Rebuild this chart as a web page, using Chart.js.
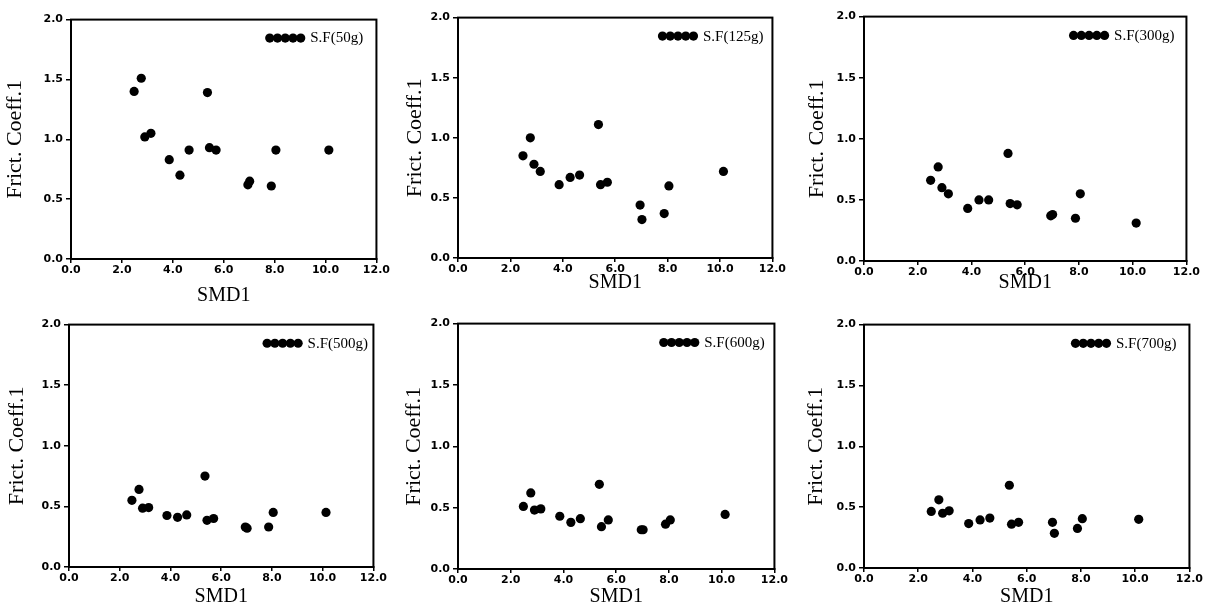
<!DOCTYPE html>
<html>
<head>
<meta charset="utf-8">
<script src="https://cdn.jsdelivr.net/npm/chart.js@4.4.1/dist/chart.umd.min.js"></script>
<style>
  html, body { margin: 0; padding: 0; background: #fff; }
  #wrap { position: relative; width: 1216px; height: 614px; overflow: hidden; background: #fff; }
  canvas { position: absolute; }
</style>
</head>
<body>
<div id="wrap"></div>
<script>
// ---- data ----
const smd1 = [2.48, 2.76, 2.90, 3.14, 3.86, 4.28, 4.64, 5.36, 5.44, 5.70, 6.95, 7.02, 7.87, 8.05, 10.13];
const sf50  = [1.40, 1.51, 1.02, 1.05, 0.83, 0.70, 0.91, 1.39, 0.93, 0.91, 0.62, 0.65, 0.61, 0.91, 0.91];
const sf125 = [0.85, 1.00, 0.78, 0.72, 0.61, 0.67, 0.69, 1.11, 0.61, 0.63, 0.44, 0.32, 0.37, 0.60, 0.72];
const sf300 = [0.66, 0.77, 0.60, 0.55, 0.43, 0.50, 0.50, 0.88, 0.47, 0.46, 0.37, 0.38, 0.35, 0.55, 0.31];
const sf500 = [0.55, 0.64, 0.485, 0.49, 0.425, 0.41, 0.43, 0.75, 0.385, 0.40, 0.33, 0.32, 0.33, 0.45, 0.45];
const sf600 = [0.51, 0.62, 0.48, 0.49, 0.43, 0.38, 0.41, 0.69, 0.345, 0.40, 0.32, 0.32, 0.365, 0.40, 0.445];
const sf700 = [0.465, 0.56, 0.45, 0.47, 0.365, 0.395, 0.41, 0.68, 0.36, 0.375, 0.375, 0.285, 0.325, 0.405, 0.40];
const seriesLabels = ['S.F(50g)', 'S.F(125g)', 'S.F(300g)', 'S.F(500g)', 'S.F(600g)', 'S.F(700g)'];
const seriesValues = [sf50, sf125, sf300, sf500, sf600, sf700];
const xTickLabels = ['0.0', '2.0', '4.0', '6.0', '8.0', '10.0', '12.0'];
const yTickLabels = ['0.0', '0.5', '1.0', '1.5', '2.0'];
const xTitle = 'SMD1';
const yTitle = 'Frict. Coeff.1';

// ---- layout (canvas boxes, axis sizes) ----
const panels = [
  { left: 2,   top: 10,  width: 389, height: 298, yw: 69, xh: 49 },
  { left: 402, top: 8,   width: 385, height: 287, yw: 56, xh: 37 },
  { left: 804, top: 7,   width: 397, height: 288, yw: 60, xh: 34 },
  { left: 4,   top: 315, width: 384, height: 294, yw: 65, xh: 42 },
  { left: 401, top: 314, width: 388, height: 295, yw: 57, xh: 40 },
  { left: 803, top: 315, width: 401, height: 294, yw: 61, xh: 41 }
];

const framePlugin = {
  id: 'frame',
  afterDatasetsDraw(chart) {
    const ca = chart.chartArea, ctx = chart.ctx;
    ctx.save();
    ctx.strokeStyle = '#000';
    ctx.lineWidth = 2;
    ctx.strokeRect(ca.left, ca.top, ca.right - ca.left, ca.bottom - ca.top);
    ctx.restore();
  }
};

const insideLegend = {
  id: 'insideLegend',
  afterDraw(chart) {
    const ca = chart.chartArea, ctx = chart.ctx;
    const ds = chart.data.datasets[0];
    const x0 = ca.left + (ca.right - ca.left) * 0.636;
    const y0 = ca.top + (ca.bottom - ca.top) * 0.077;
    ctx.save();
    ctx.fillStyle = '#000';
    for (let i = 0; i < 5; i++) {
      ctx.beginPath();
      ctx.arc(x0 + 4.5 + i * 7.75, y0, 4.6, 0, Math.PI * 2);
      ctx.fill();
    }
    ctx.font = '15px "Liberation Serif"';
    ctx.textBaseline = 'middle';
    ctx.textAlign = 'left';
    ctx.fillText(ds.label, x0 + 45, y0 + 0.5);
    ctx.restore();
  }
};

const wrap = document.getElementById('wrap');
panels.forEach((p, k) => {
  const cv = document.createElement('canvas');
  cv.width = p.width; cv.height = p.height;
  cv.style.left = p.left + 'px'; cv.style.top = p.top + 'px';
  cv.style.width = p.width + 'px'; cv.style.height = p.height + 'px';
  wrap.appendChild(cv);
  const tickFont = { family: 'DejaVu Sans', weight: 'bold', size: 11 };
  new Chart(cv.getContext('2d'), {
    type: 'scatter',
    data: {
      datasets: [{
        label: seriesLabels[k],
        data: smd1.map((x, i) => ({ x: x, y: seriesValues[k][i] })),
        pointRadius: 4.6,
        pointHoverRadius: 4.6,
        pointBackgroundColor: '#000',
        pointBorderColor: '#000',
        pointBorderWidth: 0
      }]
    },
    options: {
      responsive: false,
      animation: false,
      devicePixelRatio: 1,
      layout: { padding: { top: 8, right: 4, left: 0, bottom: 0 } },
      plugins: { legend: { display: false }, tooltip: { enabled: false } },
      scales: {
        x: {
          type: 'linear', min: 0, max: 12,
          afterFit(s) { s.height = p.xh; },
          ticks: { stepSize: 2, color: '#000', font: tickFont, padding: 1, maxRotation: 0,
                   callback: (v, i) => xTickLabels[i] },
          grid: { display: true, drawOnChartArea: false, drawTicks: true, tickLength: 4, color: '#000', lineWidth: 1.5 },
          border: { display: true, color: '#000', width: 2 },
          title: { display: true, text: xTitle, color: '#000',
                   font: { family: 'Liberation Serif', size: 20, lineHeight: 1.2 }, padding: { top: 0, bottom: 0 } }
        },
        y: {
          type: 'linear', min: 0, max: 2,
          afterFit(s) { s.width = p.yw; },
          ticks: { stepSize: 0.5, color: '#000', font: tickFont, padding: 3,
                   callback: (v, i) => yTickLabels[i] },
          grid: { display: true, drawOnChartArea: false, drawTicks: true, tickLength: 5, color: '#000', lineWidth: 1.5 },
          border: { display: true, color: '#000', width: 2 },
          title: { display: true, text: yTitle, color: '#000',
                   font: { family: 'Liberation Serif', size: 22, lineHeight: 1.2 }, padding: { top: 0, bottom: 0 } }
        }
      }
    },
    plugins: [framePlugin, insideLegend]
  });
});
</script>
</body>
</html>
